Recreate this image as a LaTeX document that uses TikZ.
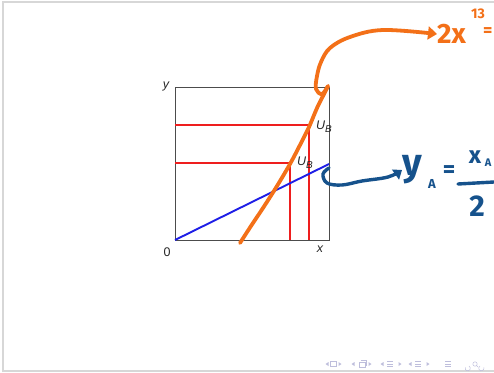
\documentclass[tikz,border=0pt]{standalone}
\usepackage{fontspec}
\newfontfamily\handfont{Fira Sans}
\newfontfamily\labfont{Liberation Sans}
\usetikzlibrary{arrows.meta}
\definecolor{pen orange}{RGB}{243,112,24}
\definecolor{pen blue}{RGB}{22,82,140}
\definecolor{line red}{RGB}{238,30,30}
\definecolor{line blue}{RGB}{30,30,230}
\definecolor{frame gray}{RGB}{215,215,215}
\definecolor{nav}{RGB}{190,190,220}
\tikzset{
  axisline/.style={draw=black!70,line width=1pt},
  redline/.style={draw=line red,line width=1.5pt},
  blueline/.style={draw=line blue,line width=1.9pt},
  lab/.style={font=\labfont\itshape\fontsize{12.5}{14}\selectfont,inner sep=0pt,text=black!85},
  orangepen/.style={draw=pen orange,line width=3.8pt,line cap=round,line join=round},
  bluepen/.style={draw=pen blue,line width=3.4pt,line cap=round,line join=round},
  handtext/.style={inner sep=0pt,font=\handfont\bfseries},
  navsym/.style={fill=nav,draw=none},
  navline/.style={draw=nav,line width=0.5pt}
}
\begin{document}
\begin{tikzpicture}[x=1pt,y=-1pt]
\useasboundingbox (0,0) rectangle (494,372);
% slide frame
\draw[frame gray,line width=1.5pt] (3,372) -- (3,2) -- (494,2);
\draw[frame gray,line width=1.2pt] (3,371) -- (494,371);
% axes box
\coordinate (O) at (175,240);
\coordinate (XE) at (329,240);
\coordinate (YT) at (175,87);
\coordinate (C) at (329,87);
\draw[axisline] (O) -- (XE) -- (C) -- (YT) -- cycle;
% red lines
\coordinate (rA) at (175,125);
\coordinate (rB) at (309,125);
\coordinate (rBb) at (309,240);
\coordinate (rC) at (175,163);
\coordinate (rD) at (290,163);
\coordinate (rDb) at (290,240);
\draw[redline] (rA) -- (rB) -- (rBb);
\draw[redline] (rC) -- (rD) -- (rDb);
% blue line
\coordinate (bE) at (329,164);
\draw[blueline] (O) -- (bE);
% labels
\node[lab] (ylab) at (166,86) {y};
\node[lab,font=\labfont\fontsize{12.5}{14}\selectfont] (zero) at (167,252) {0};
\node[lab] (xlab) at (320,249) {x};
\node[lab,anchor=west] (UB1) at (316,127) {U\textsubscript{\fontsize{10}{10}\selectfont B}};
\node[lab,anchor=west] (UB2) at (297,163) {U\textsubscript{\fontsize{10}{10}\selectfont B}};
% orange handwriting
\node[handtext,text=pen orange,font=\handfont\bfseries\fontsize{28}{28}\selectfont,anchor=west] (twox) at (437,34) {2x};
\node[handtext,text=pen orange,font=\handfont\bfseries\fontsize{14}{14}\selectfont,anchor=west] (thirteen) at (471,14) {13};
\node[handtext,text=pen orange,font=\handfont\bfseries\fontsize{18}{18}\selectfont,anchor=west] (oeq) at (483,32) {=};
\coordinate (oS) at (240,243);
\coordinate (oT) at (328,86);
\draw[orangepen] plot[smooth,tension=0.55] coordinates {(oS) (251,226) (263,208) (277,186) (290,164) (300,145) (309,127) (317,108) (323,96) (oT)};
\draw[orangepen,-{Triangle[length=9pt,width=13pt]}] plot[smooth,tension=0.6] coordinates {(oT) (322,94) (316,89) (317,76) (321,62) (330,48) (350,37) (383,30) (twox.west)};
% blue handwriting
\node[handtext,text=pen blue,font=\handfont\bfseries\fontsize{38}{38}\selectfont,anchor=west] (ya) at (402,170) {y};
\node[handtext,text=pen blue,font=\handfont\bfseries\fontsize{13}{13}\selectfont] (yasub) at (432,184) {A};
\node[handtext,text=pen blue,font=\handfont\bfseries\fontsize{24}{24}\selectfont] (beq) at (449,172) {=};
\node[handtext,text=pen blue,font=\handfont\bfseries\fontsize{24}{24}\selectfont] (xa) at (475,157) {x};
\node[handtext,text=pen blue,font=\handfont\bfseries\fontsize{11}{11}\selectfont] (xasub) at (488,163) {A};
\coordinate (barL) at (458,184);
\coordinate (barR) at (494,182);
\draw[bluepen] (barL) -- (barR);
\node[handtext,text=pen blue,font=\handfont\bfseries\fontsize{30}{30}\selectfont] (two) at (477,206) {2};
\coordinate (bS) at (329,168);
\draw[bluepen,-{Triangle[length=8pt,width=12pt]}] plot[smooth,tension=0.6] coordinates {(bS) (323,174) (327,183) (342,185) (362,181) (388,177) (ya.west)};
% navigation symbols
\foreach \cx/\cy in {327/364, 353/364, 382/364, 410/364}{
  \fill[navsym] (\cx+1.5,\cy-2) -- (\cx-1.5,\cy) -- (\cx+1.5,\cy+2) -- cycle;}
\foreach \cx/\cy in {340/364, 370/364, 400/364, 428/364}{
  \fill[navsym] (\cx-1.5,\cy-2) -- (\cx+1.5,\cy) -- (\cx-1.5,\cy+2) -- cycle;}
\draw[navline] (330.5,361.5) rectangle (336,366.5);
\draw[navline] (359,362) rectangle (365,367);
\draw[navline] (360.5,360.5) -- (366.5,360.5) -- (366.5,365.5);
\foreach \cx in {390,418,448}{
  \draw[navline] (\cx-3,361.5) -- (\cx+3,361.5) (\cx-3,364) -- (\cx+3,364) (\cx-3,366.5) -- (\cx+3,366.5);}
\draw[navline] (469,366) arc (-60:200:2.6);
\draw[navline] (475,364) circle (2.2) (476.5,365.5) -- (478,367);
\draw[navline] (480,366) arc (240:-20:2.6);
\end{tikzpicture}
\end{document}
